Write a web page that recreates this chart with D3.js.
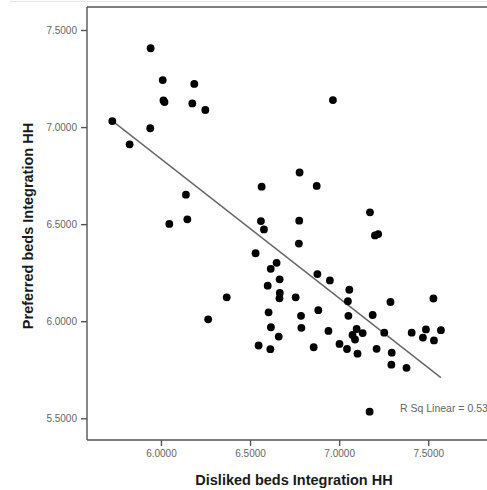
<!DOCTYPE html>
<html>
<head>
<meta charset="utf-8">
<script src="https://cdn.jsdelivr.net/npm/d3@7"></script>
<style>
  body { margin: 0; background: #fff; overflow: hidden; }
  svg { display: block; font-family: "Liberation Sans", Arial, sans-serif; }
</style>
</head>
<body>
<div id="chart"></div>
<script>
// values
var dislikedHH = [5.942, 6.010, 6.187, 6.014, 6.020, 6.176, 6.249, 5.727, 5.940, 5.824,
  6.140, 6.148, 6.047, 6.565, 6.561, 6.578, 6.965, 6.778, 6.874, 7.173,
  7.201, 7.219, 6.776, 6.774, 6.531, 6.649, 6.616, 6.878, 6.948, 6.666,
  6.599, 6.667, 6.665, 6.756, 7.057, 7.049, 7.288, 7.529, 6.369, 6.265,
  6.604, 6.883, 7.052, 7.188, 6.786, 6.617, 6.788, 6.661, 6.940, 7.098,
  7.075, 7.089, 7.132, 7.253, 7.407, 7.487, 7.470, 7.571, 7.532, 6.548,
  6.614, 6.857, 7.002, 7.044, 7.103, 7.210, 7.295, 7.293, 7.378, 7.171];
var preferredHH = [7.406, 7.242, 7.222, 7.137, 7.129, 7.122, 7.088, 7.031, 6.994, 6.911,
  6.652, 6.525, 6.501, 6.693, 6.516, 6.473, 7.139, 6.766, 6.697, 6.561,
  6.442, 6.449, 6.518, 6.400, 6.350, 6.301, 6.270, 6.243, 6.210, 6.216,
  6.183, 6.146, 6.118, 6.123, 6.162, 6.103, 6.099, 6.117, 6.123, 6.010,
  6.046, 6.057, 6.028, 6.032, 6.028, 5.969, 5.966, 5.921, 5.950, 5.960,
  5.929, 5.906, 5.939, 5.941, 5.941, 5.958, 5.916, 5.954, 5.901, 5.875,
  5.856, 5.866, 5.883, 5.857, 5.833, 5.858, 5.838, 5.776, 5.760, 5.534];

var xTicks = [6.0, 6.5, 7.0, 7.5];
var yTicks = [5.5, 6.0, 6.5, 7.0, 7.5];

// fit line
var fitSlope = -0.717, fitIntercept = 11.138;
var rSqLabel = "R Sq Linear = 0.53";

var W = 487, H = 490;
var margin = { top: 7, left: 87 },
    plotW = 560, plotH = 433;

var svg = d3.select("#chart").append("svg")
    .attr("width", W).attr("height", H);

// faint outer border
svg.append("line")
    .attr("x1", 10).attr("x2", W).attr("y1", 1.5).attr("y2", 1.5)
    .attr("stroke", "#e6e6e6").attr("stroke-width", 1);

var g = svg.append("g")
    .attr("transform", "translate(" + margin.left + "," + margin.top + ")");

var x = d3.scaleLinear().domain([5.585, 5.585 + plotW / 178.2]).range([0, plotW]);
var y = d3.scaleLinear().domain([7.5 - (433 - 23) / 194.15, 7.5 + 23 / 194.15]).range([plotH, 0]);

// frame: left, top and bottom (right side runs off the page)
var frame = [[0, 0, 0, plotH], [0, 0, plotW, 0], [0, plotH, plotW, plotH]];
g.selectAll("line.frame").data(frame).enter().append("line")
    .attr("class", "frame")
    .attr("x1", function (d) { return d[0]; }).attr("y1", function (d) { return d[1]; })
    .attr("x2", function (d) { return d[2]; }).attr("y2", function (d) { return d[3]; })
    .attr("stroke", "#555").attr("stroke-width", 1.4);

var fmt = d3.format(".4f");

var xAxis = g.append("g")
    .attr("transform", "translate(0," + plotH + ")")
    .call(d3.axisBottom(x).tickValues(xTicks).tickFormat(fmt).tickSize(6).tickPadding(4));
var yAxis = g.append("g")
    .call(d3.axisLeft(y).tickValues(yTicks).tickFormat(fmt).tickSize(6).tickPadding(4));

[xAxis, yAxis].forEach(function (a) {
  a.select(".domain").remove();
  a.selectAll(".tick line").attr("stroke", "#555").attr("stroke-width", 1.4);
  a.selectAll(".tick text")
    .attr("fill", "#666")
    .style("font-size", "10px")
    .style("font-family", "'Liberation Sans', Arial, sans-serif");
});

// regression line
var xMin = d3.min(dislikedHH), xMax = d3.max(dislikedHH);
g.append("line")
    .attr("x1", x(xMin)).attr("y1", y(fitIntercept + fitSlope * xMin))
    .attr("x2", x(xMax)).attr("y2", y(fitIntercept + fitSlope * xMax))
    .attr("stroke", "#666").attr("stroke-width", 1.4);

// points
g.selectAll("circle.pt")
    .data(dislikedHH.map(function (v, i) { return [v, preferredHH[i]]; }))
    .enter().append("circle")
    .attr("class", "pt")
    .attr("cx", function (d) { return x(d[0]); })
    .attr("cy", function (d) { return y(d[1]); })
    .attr("r", 3.9)
    .attr("fill", "#000");

// R sq label
g.append("text")
    .attr("x", 400 - margin.left).attr("y", 412 - margin.top)
    .attr("fill", "#666")
    .style("font-size", "10.5px")
    .text(rSqLabel);

// axis titles
svg.append("text")
    .attr("x", 294).attr("y", 485)
    .attr("text-anchor", "middle")
    .attr("fill", "#1a1a1a")
    .style("font-size", "14.5px").style("font-weight", "bold")
    .text("Disliked beds Integration HH");

svg.append("text")
    .attr("transform", "translate(33,226) rotate(-90)")
    .attr("text-anchor", "middle")
    .attr("fill", "#1a1a1a")
    .style("font-size", "14.5px").style("font-weight", "bold")
    .text("Preferred beds Integration HH");
</script>
</body>
</html>
